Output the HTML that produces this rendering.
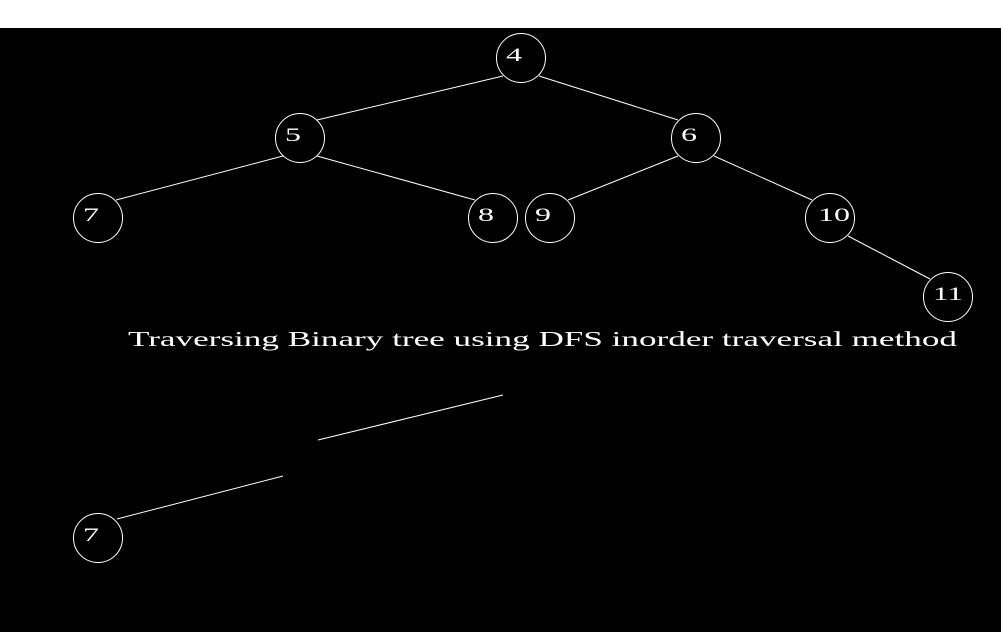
<!DOCTYPE html>
<html><head><style>html,body{margin:0;padding:0;background:#000;width:1001px;height:632px;overflow:hidden}</style></head>
<body>
<svg width="1001" height="632" xmlns="http://www.w3.org/2000/svg" style="display:block">
<rect x="0" y="0" width="1001" height="632" fill="#000"/>
<rect x="0" y="0" width="1001" height="28" fill="#fff"/>
<g stroke="#fff" stroke-width="1" fill="none">
<line x1="503" y1="76" x2="317" y2="120"/>
<line x1="539" y1="76" x2="678" y2="120"/>
<line x1="283" y1="156" x2="116" y2="200"/>
<line x1="317" y1="156" x2="475" y2="200"/>
<line x1="678" y1="156" x2="568" y2="200"/>
<line x1="714" y1="156" x2="812" y2="200"/>
<line x1="848" y1="236" x2="930" y2="279"/>
<line x1="318" y1="440" x2="503" y2="395"/>
<line x1="117" y1="519" x2="283" y2="476"/>
</g>
<g stroke="#fff" stroke-width="1" fill="#000">
<circle cx="521" cy="58" r="24.5"/>
<circle cx="300" cy="138" r="24.5"/>
<circle cx="696" cy="138" r="24.5"/>
<circle cx="98" cy="218" r="24.5"/>
<circle cx="493" cy="218" r="24.5"/>
<circle cx="550" cy="218" r="24.5"/>
<circle cx="830" cy="218" r="24.5"/>
<circle cx="948" cy="297" r="24.5"/>
<circle cx="98" cy="538" r="24.5"/>
</g>
<g fill="#fff" font-family="Liberation Serif, serif" font-size="19">
<text x="506" y="61" textLength="16" lengthAdjust="spacingAndGlyphs">4</text>
<text x="285" y="141" textLength="16" lengthAdjust="spacingAndGlyphs">5</text>
<text x="681" y="141" textLength="16" lengthAdjust="spacingAndGlyphs">6</text>
<text x="83" y="221" textLength="16" lengthAdjust="spacingAndGlyphs">7</text>
<text x="478" y="221" textLength="16" lengthAdjust="spacingAndGlyphs">8</text>
<text x="535" y="221" textLength="16" lengthAdjust="spacingAndGlyphs">9</text>
<text x="818" y="221" textLength="32" lengthAdjust="spacingAndGlyphs">10</text>
<text x="933" y="300" textLength="30" lengthAdjust="spacingAndGlyphs">11</text>
<text x="83" y="541" textLength="16" lengthAdjust="spacingAndGlyphs">7</text>
<text x="128" y="346" font-size="21" textLength="829" lengthAdjust="spacingAndGlyphs">Traversing Binary tree using DFS inorder traversal method</text>
</g>
</svg>
</body></html>
